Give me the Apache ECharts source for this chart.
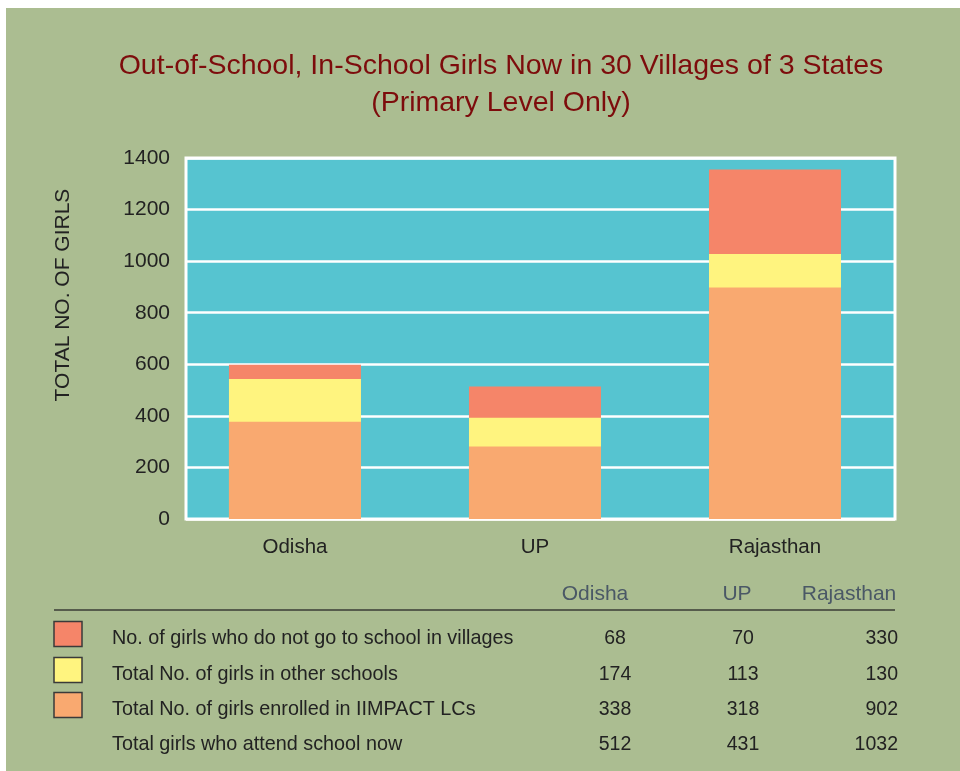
<!DOCTYPE html>
<html>
<head>
<meta charset="utf-8">
<script src="https://cdn.jsdelivr.net/npm/echarts@6/dist/echarts.min.js"></script>
<style>
  html, body { margin: 0; padding: 0; background: #fff; }
  #main { width: 960px; height: 771px; }
</style>
</head>
<body>
<div id="main"></div>
<script>
// bar heights
const states = ['Odisha', 'UP', 'Rajasthan']
const enrolledLC = [377, 281, 898]
const otherSchools = [166, 112, 130]
const notInSchool = [55, 121, 327]
const yTicks = [0, 200, 400, 600, 800, 1000, 1200, 1400]

// the table printed under the chart
const rowLabels = [
  'No. of girls who do not go to school in villages',
  'Total No. of girls in other schools',
  'Total No. of girls enrolled in IIMPACT LCs',
  'Total girls who attend school now'
]
const tblOdisha = ['68', '174', '338', '512']
const tblUP = ['70', '113', '318', '431']
const tblRajasthan = ['330', '130', '902', '1032']

const colors = ['#f9a970', '#fff47f', '#f58569']
const font = 'Liberation Sans, Arial, sans-serif'

let chart = echarts.init(document.getElementById('main'))

// value x axis so the bars sit where they do in the picture; segments are
// drawn as overlapping cumulative bars (top one first)
const cum1 = enrolledLC
const cum2 = enrolledLC.map((v, i) => v + otherSchools[i])
const cum3 = cum2.map((v, i) => v + notInSchool[i])
const toPts = arr => arr.map((v, i) => [i, v])

const graphics = [
  {type: 'rect', shape: {x: 6, y: 8, width: 954, height: 763}, style: {fill: '#abbd91'}, z: -10, silent: true},
  {type: 'text', x: 63, y: 295, rotation: Math.PI / 2,
    style: {text: 'TOTAL NO. OF GIRLS', font: '21px ' + font, fill: '#222', align: 'center', verticalAlign: 'middle'}},
  {type: 'line', shape: {x1: 54, y1: 610, x2: 895, y2: 610}, style: {stroke: '#3a3d36', lineWidth: 1.5}}
]
const headX = [595, 737, 849]
states.forEach((s, i) => {
  graphics.push({type: 'text', x: headX[i], y: 594,
    style: {text: s, font: '21px ' + font, fill: '#4a5866', align: 'center', verticalAlign: 'middle'}})
})
const rowY = [639, 675, 710, 745]
const swatch = [colors[2], colors[1], colors[0]]
rowLabels.forEach((t, i) => {
  if (i < 3) {
    graphics.push({type: 'rect', shape: {x: 54, y: rowY[i] - 17.5, width: 28, height: 25},
      style: {fill: swatch[i], stroke: '#3a3a3a', lineWidth: 1.5}})
  }
  graphics.push({type: 'text', x: 112, y: rowY[i],
    style: {text: t, font: '19.8px ' + font, fill: '#222', align: 'left', verticalAlign: 'middle'}})
  graphics.push({type: 'text', x: 615, y: rowY[i],
    style: {text: tblOdisha[i], font: '19.5px ' + font, fill: '#222', align: 'center', verticalAlign: 'middle'}})
  graphics.push({type: 'text', x: 743, y: rowY[i],
    style: {text: tblUP[i], font: '19.5px ' + font, fill: '#222', align: 'center', verticalAlign: 'middle'}})
  graphics.push({type: 'text', x: 898, y: rowY[i],
    style: {text: tblRajasthan[i], font: '19.5px ' + font, fill: '#222', align: 'right', verticalAlign: 'middle'}})
})

chart.setOption({
  backgroundColor: '#ffffff',
  animation: false,
  title: {
    text: 'Out-of-School, In-School Girls Now in 30 Villages of 3 States\n(Primary Level Only)',
    left: 496,
    top: 43,
    textAlign: 'center',
    textStyle: {color: '#7d0c0c', fontSize: 28.5, fontWeight: 'normal', fontFamily: font, lineHeight: 37}
  },
  grid: {
    left: 186, right: 65, top: 158, bottom: 252,
    show: true,
    backgroundColor: '#56c4d0',
    borderColor: '#ffffff',
    borderWidth: 3
  },
  xAxis: {
    type: 'value',
    min: -0.454,
    max: 2.5,
    axisLine: {show: false},
    axisTick: {show: false},
    splitLine: {show: false},
    axisLabel: {
      customValues: [0, 1, 2],
      formatter: v => states[Math.round(v)],
      color: '#222',
      fontSize: 20.5,
      fontFamily: font,
      margin: 18
    }
  },
  yAxis: {
    type: 'value',
    min: yTicks[0],
    max: yTicks[yTicks.length - 1],
    interval: 200,
    axisLine: {show: false},
    axisTick: {show: false},
    axisLabel: {color: '#222', fontSize: 21, fontFamily: font, margin: 16, formatter: v => String(v)},
    splitLine: {lineStyle: {color: '#ffffff', width: 2.5}}
  },
  series: [
    {name: 'not', type: 'bar', barWidth: 132, barGap: '-100%', data: toPts(cum3), itemStyle: {color: colors[2]}},
    {name: 'other', type: 'bar', barWidth: 132, barGap: '-100%', data: toPts(cum2), itemStyle: {color: colors[1]}},
    {name: 'enrolled', type: 'bar', barWidth: 132, barGap: '-100%', data: toPts(cum1), itemStyle: {color: colors[0]}}
  ],
  graphic: graphics
})
</script>
</body>
</html>
